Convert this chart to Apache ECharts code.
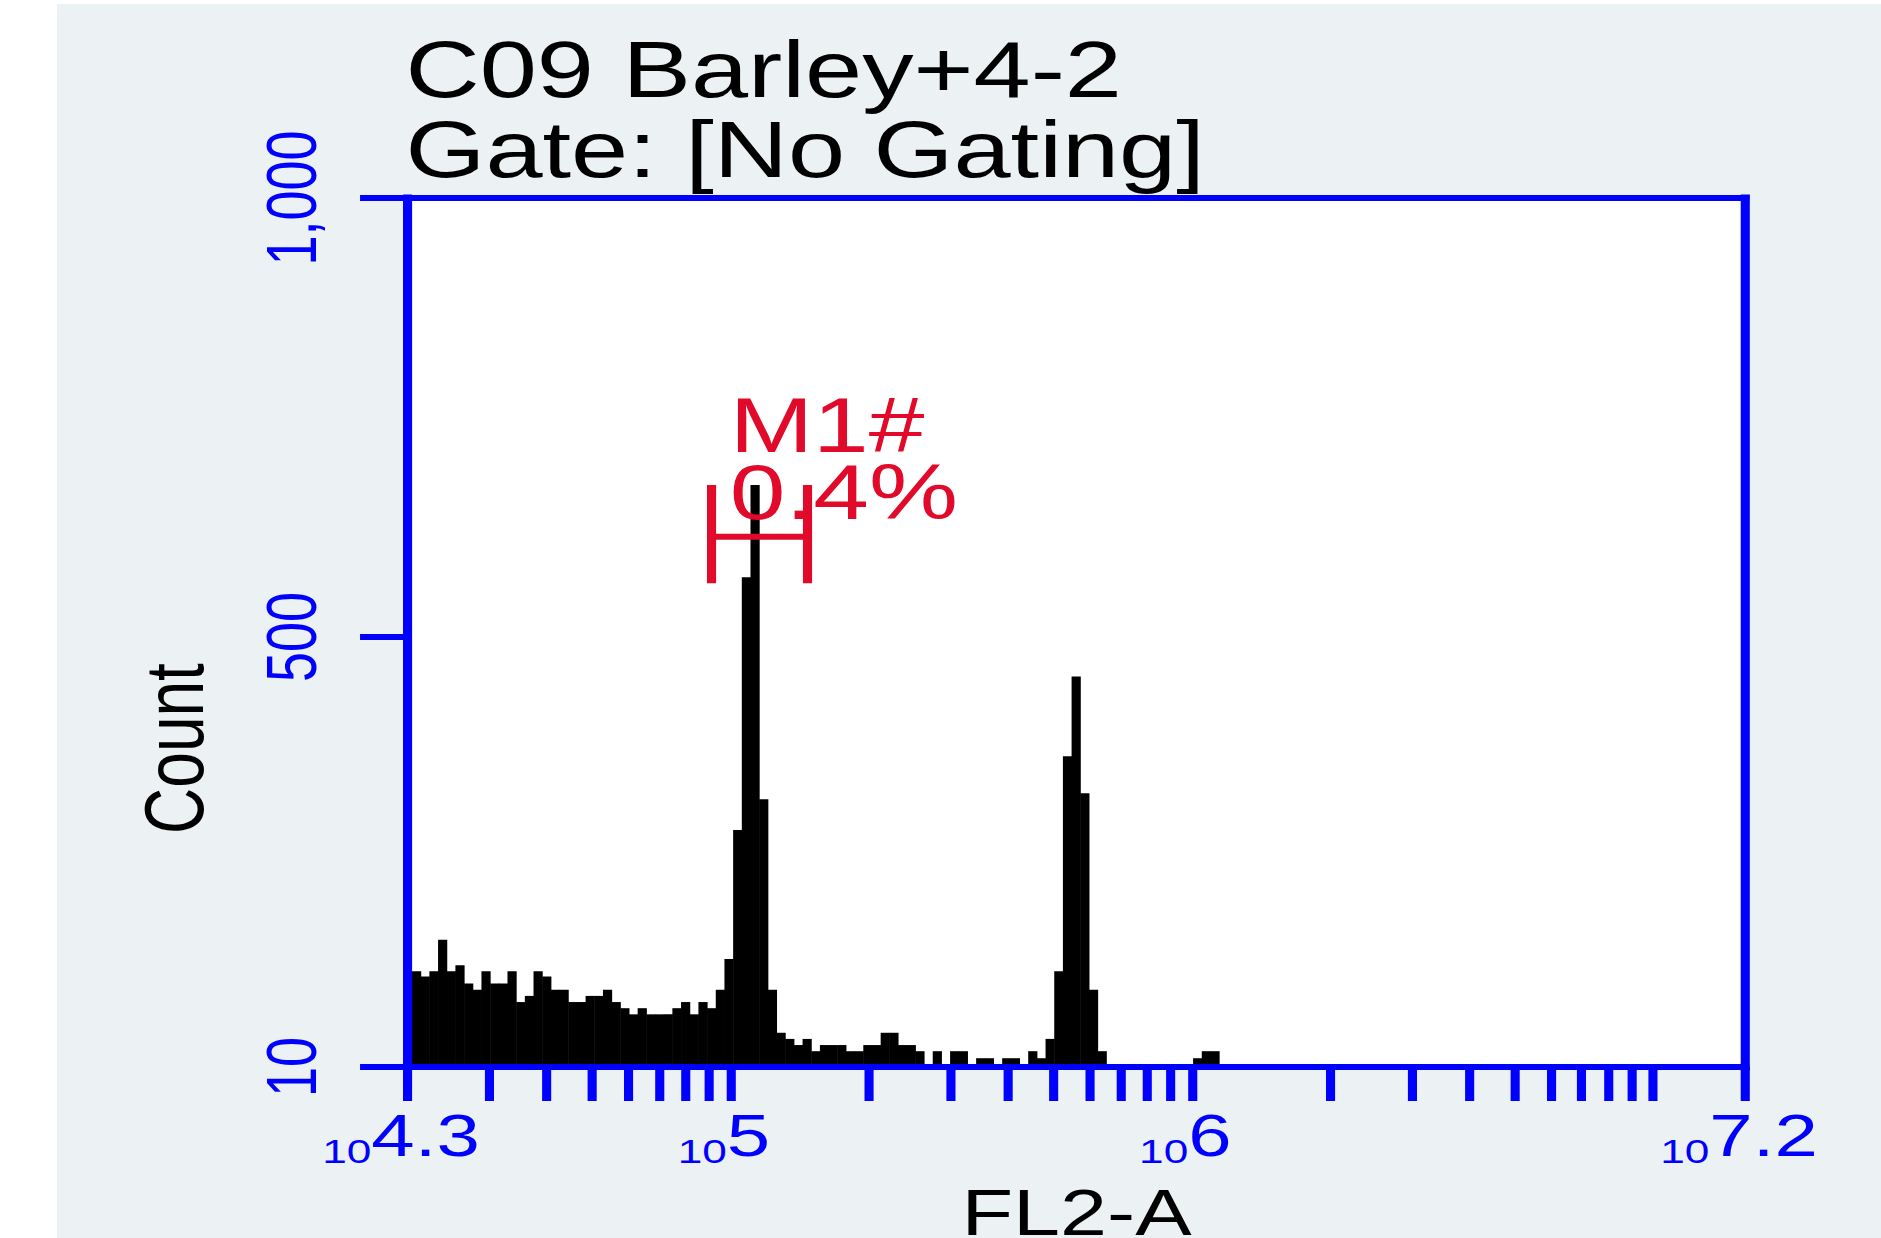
<!DOCTYPE html>
<html>
<head>
<meta charset="utf-8">
<script src="https://cdn.jsdelivr.net/npm/echarts@6/dist/echarts.min.js"></script>
<style>
  html, body { margin: 0; padding: 0; background: #ffffff; overflow: hidden; width: 1881px; height: 1238px; }
  #bg { position: absolute; left: 57px; top: 4px; right: 0; bottom: 0; background: #ECF1F4; }
  #chart { position: absolute; left: 0; top: 0; width: 1447px; height: 1238px; transform: scaleX(1.3); transform-origin: 0 0; }
</style>
</head>
<body>
<div id="bg"></div>
<div id="chart"></div>
<script>
// ---- data ----
const titleLines = ['C09 Barley+4-2', 'Gate: [No Gating]'];
const xAxisName = 'FL2-A';
const yAxisName = 'Count';
const xMinLog = 4.3;
const xMaxLog = 7.2;
const yMin = 10;
const yMax = 1000;
const yTickValues = [10, 500, 1000];
const yTickLabels = ['10', '500', '1,000'];
const xLabelValues = [4.3, 5, 6, 7.2];
const xLabelExponents = ['4.3', '5', '6', '7.2'];
const xTickChannels = [
  Math.pow(10, 4.3), 3e4, 4e4, 5e4, 6e4, 7e4, 8e4, 9e4,
  1e5, 2e5, 3e5, 4e5, 5e5, 6e5, 7e5, 8e5, 9e5,
  1e6, 2e6, 3e6, 4e6, 5e6, 6e6, 7e6, 8e6, 9e6,
  1e7, Math.pow(10, 7.2)
];
// histogram bins (log10 of FL2-A), equal width
const binStartLog = 4.3098;
const binWidthLog = 0.01881;
const counts = [
  119, 113, 119, 155, 119, 126, 105, 98, 119, 105,
  105, 119, 84, 91, 119, 113, 98, 98, 84, 84,
  91, 91, 98, 84, 77, 70, 77, 70, 70, 70,
  77, 84, 70, 84, 77, 98, 133, 280, 568, 673,
  315, 98, 49, 42, 35, 42, 28, 35, 35, 35,
  28, 28, 35, 35, 49, 49, 35, 35, 28, 5,
  28, 5, 28, 28, 5, 20, 20, 5, 20, 20,
  5, 28, 20, 42, 119, 364, 455, 322, 98, 28,
  5, 5, 5, 5, 5, 5, 5, 5, 5, 5,
  20, 28, 28
];
// marker M1 (log10 range) and its bracket levels (top, bar, bottom) in counts
const m1Range = [4.959, 5.167];
const m1Levels = [673, 614, 561];
const m1Labels = ['M1#', '0.4%'];

// ---- styles ----
const BLUE = '#0000FF';
const RED = '#E20A2A';
const FONT = "'Liberation Sans', Arial, sans-serif";

const xTickValues = xTickChannels.map(v => Math.log10(v));
const barData = counts.map((c, i) => [binStartLog + i * binWidthLog, binStartLog + (i + 1) * binWidthLog, c]);
const markerData = [[m1Range[0], m1Range[1], m1Levels[0], m1Levels[1], m1Levels[2]]];

const chart = echarts.init(document.getElementById('chart'), null, { renderer: 'svg' });

const option = {
  animation: false,
  title: {
    text: titleLines.join('\n'),
    left: 312,
    top: 29,
    padding: 0,
    textStyle: { fontFamily: FONT, fontSize: 79, fontWeight: 'normal', color: '#000', lineHeight: 80 }
  },
  grid: {
    left: 313.46, top: 198, width: 1029.23, height: 869,
    outerBoundsMode: 'none', containLabel: false,
    show: true, backgroundColor: '#ffffff', borderWidth: 0
  },
  xAxis: [
    {
      type: 'value', min: xMinLog, max: xMaxLog, position: 'bottom', z: 5,
      axisLine: { show: true, lineStyle: { color: BLUE, width: 6, cap: 'square' } },
      axisTick: { show: true, customValues: xTickValues, length: 34, lineStyle: { color: BLUE, width: 7 } },
      axisLabel: {
        show: true, customValues: xLabelValues, margin: 35, color: BLUE, padding: [0, 10, 0, 0],
        formatter: function (v) {
          const i = xLabelValues.findIndex(t => Math.abs(t - v) < 1e-6);
          return '{b|10}{e|' + (i >= 0 ? xLabelExponents[i] : '') + '}';
        },
        rich: {
          b: { fontSize: 34, lineHeight: 6, verticalAlign: 'bottom', color: BLUE, fontFamily: FONT },
          e: { fontSize: 60, lineHeight: 66, color: BLUE, fontFamily: FONT }
        }
      },
      splitLine: { show: false },
      name: xAxisName, nameLocation: 'middle', nameGap: 123,
      nameTextStyle: { color: '#000', fontSize: 65, lineHeight: 46, fontFamily: FONT }
    },
    {
      type: 'value', min: xMinLog, max: xMaxLog, position: 'top', z: 5,
      axisLine: { show: true, lineStyle: { color: BLUE, width: 6, cap: 'square' } },
      axisTick: { show: false }, axisLabel: { show: false }, splitLine: { show: false }
    }
  ],
  yAxis: [
    {
      type: 'value', min: yMin, max: yMax, position: 'left', z: 5,
      axisLine: { show: true, lineStyle: { color: BLUE, width: 7, cap: 'square' } },
      axisTick: { show: true, customValues: yTickValues, length: 36.5, lineStyle: { color: BLUE, width: 6 } },
      axisLabel: {
        show: true, customValues: yTickValues, rotate: 90, margin: 62.5, color: BLUE,
        fontSize: 54, fontFamily: FONT,
        formatter: function (v) {
          const i = yTickValues.indexOf(v);
          return i >= 0 ? yTickLabels[i] : '';
        }
      },
      splitLine: { show: false },
      name: yAxisName, nameLocation: 'middle', nameRotate: 90, nameGap: 147,
      nameTextStyle: { color: '#000', fontSize: 64, fontFamily: FONT, padding: [0, 232, 0, 0] }
    },
    {
      type: 'value', min: yMin, max: yMax, position: 'right', z: 5,
      axisLine: { show: true, lineStyle: { color: BLUE, width: 7, cap: 'square' } },
      axisTick: { show: false }, axisLabel: { show: false }, splitLine: { show: false }
    }
  ],
  series: [
    {
      name: 'Count', type: 'custom', xAxisIndex: 0, yAxisIndex: 0, clip: true, z: 2,
      encode: { x: [0, 1], y: 2 },
      data: barData,
      renderItem: function (params, api) {
        const c = api.value(2);
        if (c <= yMin) return null;
        const p0 = api.coord([api.value(0), yMin]);
        const p1 = api.coord([api.value(1), c]);
        return {
          type: 'rect',
          shape: { x: p0[0], y: p1[1], width: p1[0] - p0[0] + 0.4, height: p0[1] - p1[1] },
          style: { fill: '#000000' }
        };
      }
    },
    {
      name: 'M1', type: 'custom', xAxisIndex: 0, yAxisIndex: 0, z: 10,
      encode: { x: [0, 1], y: [2, 3, 4] },
      data: markerData,
      renderItem: function (params, api) {
        const xl = api.value(0), xr = api.value(1);
        const top = api.value(2), mid = api.value(3), bot = api.value(4);
        const lt = api.coord([xl, top]), lb = api.coord([xl, bot]);
        const rt = api.coord([xr, top]), rb = api.coord([xr, bot]);
        const lm = api.coord([xl, mid]), rm = api.coord([xr, mid]);
        return {
          type: 'group',
          children: [
            { type: 'line', shape: { x1: lt[0], y1: lt[1], x2: lb[0], y2: lb[1] }, style: { stroke: RED, lineWidth: 7 } },
            { type: 'line', shape: { x1: rt[0], y1: rt[1], x2: rb[0], y2: rb[1] }, style: { stroke: RED, lineWidth: 7 } },
            { type: 'line', shape: { x1: lm[0], y1: lm[1], x2: rm[0], y2: rm[1] }, style: { stroke: RED, lineWidth: 6 } },
            {
              type: 'text',
              style: {
                text: m1Labels.join('\n'), x: lt[0] + 14, y: lt[1] - 26,
                fill: RED, fontSize: 77, fontFamily: FONT, lineHeight: 67,
                align: 'left', verticalAlign: 'middle'
              }
            }
          ]
        };
      }
    }
  ]
};
chart.setOption(option);
</script>
</body>
</html>
